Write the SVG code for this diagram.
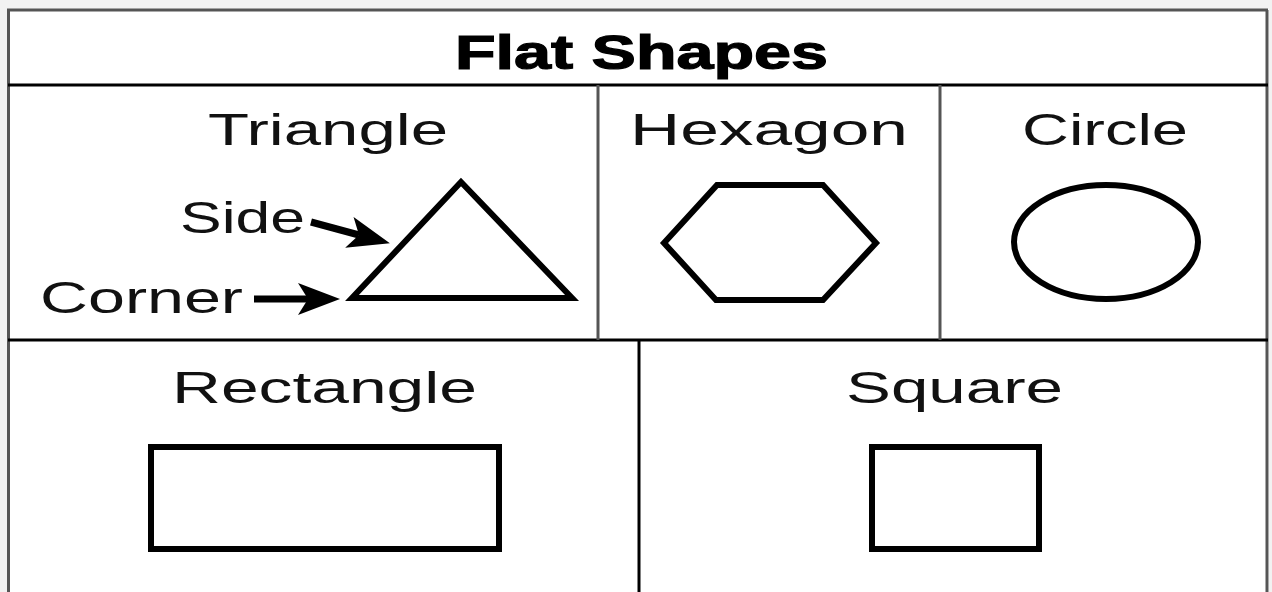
<svg xmlns="http://www.w3.org/2000/svg" width="1272" height="592" viewBox="0 0 1272 592">
<defs>
<style>
.lbl{font-family:"Liberation Sans",Arial,sans-serif;font-size:44px;fill:#111}
.ttl{font-family:"Liberation Sans",Arial,sans-serif;font-size:48px;font-weight:bold;fill:#000;stroke:#000;stroke-width:1.2}
.grid{stroke:#000;stroke-width:3;fill:none}
.gray{stroke:#555;stroke-width:3;fill:none}
.shape{stroke:#000;stroke-width:6;fill:#fff;stroke-linejoin:miter}
.conn{stroke:#000;stroke-width:7;fill:none}
</style>
<marker id="arr" markerUnits="userSpaceOnUse" markerWidth="44" markerHeight="34" refX="10" refY="16" orient="auto">
<path d="M0,0 L42,16 L0,32 L10,16 z" fill="#000"/>
</marker>
</defs>
<rect x="0" y="0" width="1272" height="592" fill="#fff"/>
<rect x="0" y="0" width="1272" height="9" fill="#f2f2f2"/>
<rect x="0" y="0" width="7" height="592" fill="#f2f2f2"/>
<rect x="1269" y="0" width="3" height="592" fill="#f2f2f2"/>

<g id="frame">
<line class="gray" x1="7" y1="10" x2="1268" y2="10"/>
<line class="gray" x1="8.5" y1="10" x2="8.5" y2="592"/>
<line class="gray" x1="1267" y1="10" x2="1267" y2="592"/>
<line class="grid" x1="8" y1="85" x2="1268" y2="85"/>
<line class="grid" x1="8" y1="340" x2="1268" y2="340"/>
<line class="gray" x1="598" y1="85" x2="598" y2="340"/>
<line class="gray" x1="940" y1="85" x2="940" y2="340"/>
<line class="grid" x1="639" y1="340" x2="639" y2="592"/>
</g>

<g id="title">
<text class="ttl" x="455" y="69" textLength="373" lengthAdjust="spacingAndGlyphs">Flat Shapes</text>
</g>

<g id="triangle">
<text class="lbl" x="208" y="145" textLength="240" lengthAdjust="spacingAndGlyphs">Triangle</text>
<polygon class="shape" points="461,182 352,298 572,298"/>
<text class="lbl" x="180" y="233" textLength="125" lengthAdjust="spacingAndGlyphs">Side</text>
<text class="lbl" x="40" y="313" textLength="203" lengthAdjust="spacingAndGlyphs">Corner</text>
</g>

<g id="hexagon">
<text class="lbl" x="630" y="145" textLength="278" lengthAdjust="spacingAndGlyphs">Hexagon</text>
<polygon class="shape" points="717,185 823,185 876,243 823,300 716,300 664,243"/>
</g>

<g id="circle">
<text class="lbl" x="1022" y="145" textLength="166" lengthAdjust="spacingAndGlyphs">Circle</text>
<ellipse class="shape" cx="1106" cy="242" rx="92" ry="57" stroke-width="5"/>
</g>

<g id="rectangle">
<text class="lbl" x="172" y="403" textLength="305" lengthAdjust="spacingAndGlyphs">Rectangle</text>
<rect class="shape" x="151" y="447" width="348" height="102"/>
</g>

<g id="square">
<text class="lbl" x="846" y="403" textLength="217" lengthAdjust="spacingAndGlyphs">Square</text>
<rect class="shape" x="872" y="447" width="167" height="102"/>
</g>

<g id="connectors">
<line class="conn" x1="311" y1="222" x2="359" y2="235" marker-end="url(#arr)"/>
<line class="conn" x1="254" y1="299" x2="308" y2="299" marker-end="url(#arr)"/>
</g>
</svg>
